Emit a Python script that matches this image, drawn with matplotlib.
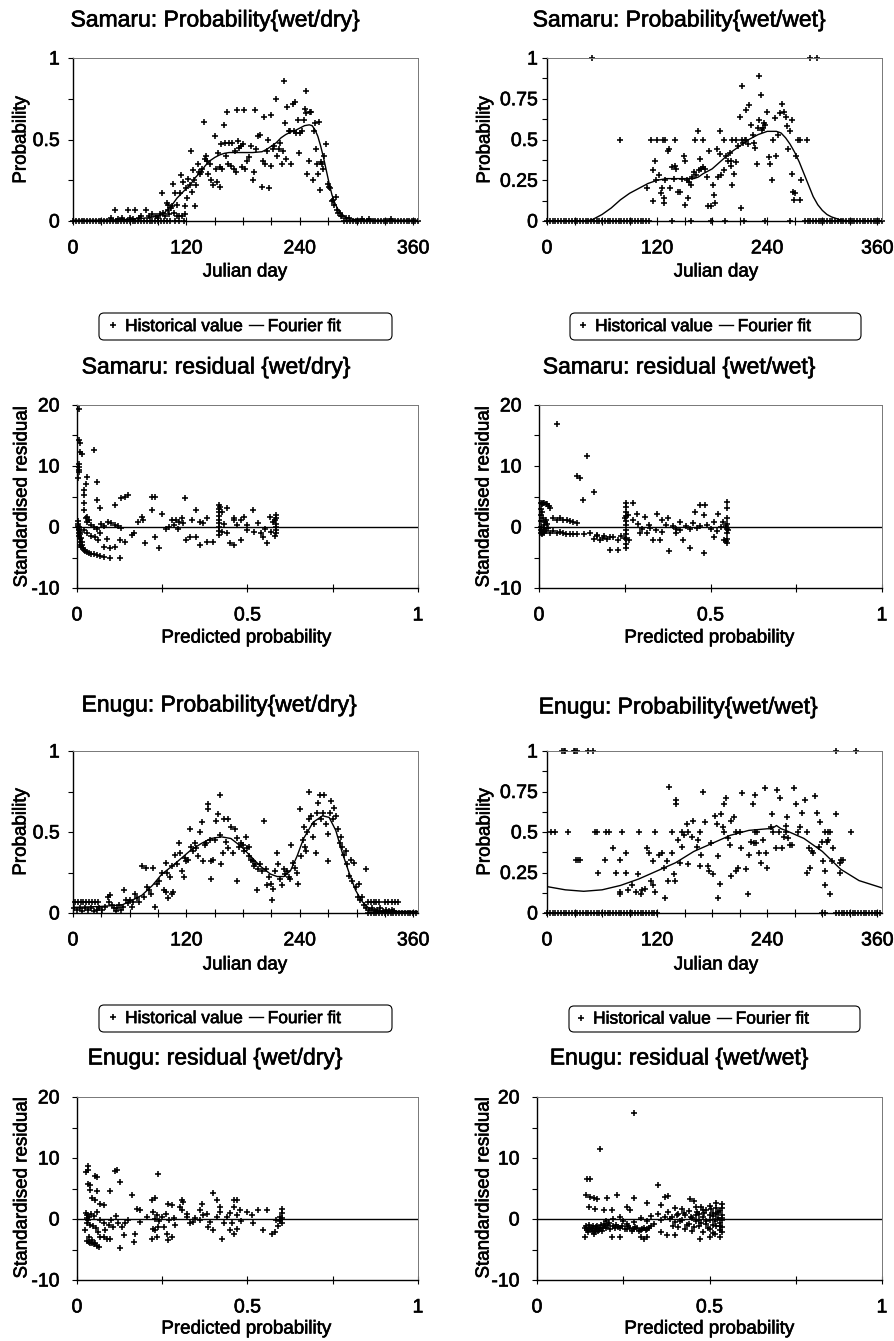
import matplotlib
matplotlib.use("Agg")
import matplotlib.pyplot as plt
import matplotlib.patheffects as pe
from matplotlib.text import Text
from matplotlib.lines import Line2D
from matplotlib.patches import FancyBboxPatch
from matplotlib.transforms import IdentityTransform
from matplotlib.ticker import MultipleLocator, FixedLocator

plt.rcParams['font.family'] = ['Liberation Sans', 'DejaVu Sans']

# ---------------- DATA ----------------
# Samaru P(wet|dry): (Julian day, probability)
samaru_wd_hist = [(40,0.02),(44,0.07),(48,0.015),(52,0.02),(58,0.07),(60,0.02),(63,0.015),(66,0.07),(70,0.02),(72,0.03),(77,0.07),(80,0.03),(84,0.04),(88,0.03),(90,0.02),(92,0.04),(95,0.05),(97,0.03),(100,0.07),(102,0.04),(105,0.09),(107,0.05),(110,0.03),(112,0.03),(115,0.03),(118,0.04),
    (94,0.17),(99,0.11),(101,0.10),(104,0.08),(106,0.23),(108,0.17),(110,0.10),(113,0.17),(114,0.28),(116,0.24),(118,0.09),(120,0.20),(121,0.14),(122,0.26),(124,0.22),(125,0.43),(126,0.18),(127,0.31),(128,0.25),(129,0.09),(130,0.22),(132,0.35),(133,0.30),(134,0.29),(135,0.30),(137,0.32),(139,0.61),(140,0.38),(141,0.40),(142,0.37),(143,0.29),(145,0.35),(146,0.25),(148,0.22),(150,0.52),(151,0.32),(152,0.24),(153,0.42),(155,0.21),(156,0.33),(157,0.47),(158,0.32),(160,0.59),(161,0.48),(162,0.40),(163,0.67),(164,0.35),(165,0.48),(167,0.34),(168,0.48),(170,0.32),(171,0.43),(172,0.30),(174,0.68),(175,0.49),(176,0.45),(178,0.46),(179,0.33),(180,0.47),(181,0.68),(182,0.32),(184,0.37),(186,0.39),(188,0.46),(190,0.25),(191,0.30),(193,0.68),(194,0.44),(196,0.52),(198,0.53),(200,0.21),(201,0.37),(202,0.64),(203,0.35),(205,0.43),(206,0.50),(207,0.20),(209,0.65),(210,0.34),(212,0.44),(213,0.46),(215,0.75),(216,0.40),(218,0.44),(219,0.48),(221,0.35),(222,0.43),(223,0.86),(224,0.60),(225,0.38),(226,0.70),(228,0.55),(230,0.55),(231,0.35),(233,0.72),(234,0.55),(235,0.73),(236,0.54),(238,0.62),(239,0.42),(240,0.54),(242,0.55),(244,0.62),(245,0.69),(246,0.80),(247,0.66),(248,0.29),(250,0.37),(251,0.67),(252,0.67),(254,0.25),(255,0.55),(256,0.60),(257,0.44),(258,0.35),(259,0.29),(260,0.61),(261,0.19),(262,0.36),(263,0.35),(264,0.32),(266,0.40),(268,0.47),(270,0.23),(271,0.21),(272,0.20),(274,0.12),(275,0.13),(276,0.10),(278,0.15),(279,0.07),(280,0.05),(282,0.05),(284,0.03),(285,0.03),(289,0.02),(292,0.02),(306,0.015),(313,0.015),(336,0.015)]
samaru_wd_zero_days = [0,3,6,9,12,15,18,21,24,27,30,33,36,39,42,45,48,51,54,57,60,63,66,69,72,75,78,81,84,87,90,93,96,99,103,108,112,117,
    287,290,293,296,299,302,305,308,311,314,317,320,323,326,329,332,335,338,341,344,347,350,353,356,359,362,365]
samaru_wd_fit_days = [0,20,40,60,80,90,95,100,105,110,115,120,125,130,135,140,145,150,155,160,165,170,180,190,200,205,210,215,220,225,230,235,240,245,250,253,256,259,262,265,268,271,274,277,280,284,288,292,296,300,310,320,340,365]
samaru_wd_fit_prob = [0.005,0.005,0.006,0.01,0.02,0.03,0.04,0.07,0.10,0.14,0.17,0.20,0.23,0.27,0.30,0.34,0.37,0.39,0.405,0.415,0.42,0.42,0.42,0.42,0.425,0.44,0.46,0.48,0.51,0.53,0.545,0.555,0.57,0.585,0.59,0.585,0.56,0.52,0.46,0.39,0.31,0.23,0.16,0.11,0.075,0.045,0.025,0.015,0.01,0.008,0.006,0.005,0.005,0.005]

# Samaru P(wet|wet)
samaru_ww_hist = [(49,1.0),(287,1.0),(294,1.0),
    (80,0.50),(113,0.50),(120,0.50),(126,0.50),(129,0.50),(140,0.50),(161,0.50),(170,0.50),(193,0.50),(202,0.50),(206,0.50),(213,0.50),(217,0.50),(274,0.50),(276,0.50),(283,0.50),
    (109,0.20),(115,0.12),(116,0.31),(118,0.37),(119,0.25),(122,0.28),(124,0.17),(125,0.20),(127,0.11),(128,0.14),(129,0.25),(132,0.43),(133,0.44),(134,0.20),(136,0.33),(138,0.26),(140,0.34),(141,0.32),(143,0.18),(145,0.18),(147,0.26),(149,0.40),(150,0.37),(150,0.10),(152,0.25),(154,0.14),(155,0.24),(157,0.22),(158,0.27),(160,0.30),(162,0.28),(165,0.55),(166,0.31),(167,0.38),(168,0.32),(170,0.33),(172,0.32),(174,0.27),(175,0.09),(177,0.43),(179,0.09),(181,0.22),(182,0.16),(183,0.11),(185,0.44),(186,0.27),(188,0.55),(189,0.41),(190,0.28),(193,0.31),(195,0.40),(197,0.37),(199,0.42),(200,0.34),(201,0.37),(202,0.22),(204,0.29),(206,0.36),(208,0.46),(210,0.64),(211,0.08),(213,0.83),(214,0.48),(216,0.50),(217,0.68),(219,0.47),(220,0.71),(222,0.59),(224,0.53),(226,0.48),(227,0.45),(229,0.35),(230,0.57),(231,0.89),(231,0.62),(233,0.77),(234,0.56),(235,0.57),(236,0.60),(238,0.59),(240,0.67),(242,0.39),(243,0.35),(245,0.25),(246,0.50),(248,0.63),(249,0.40),(252,0.53),(254,0.66),(256,0.72),(258,0.67),(260,0.64),(261,0.58),(263,0.44),(265,0.55),(267,0.62),(267,0.29),(268,0.18),(269,0.13),(270,0.17),(271,0.40),(276,0.13),(277,0.25)]
samaru_ww_zero_days = [0,3,6,9,12,15,18,21,24,27,30,33,36,39,42,45,48,51,54,57,60,63,66,69,72,75,78,81,84,87,90,93,96,99,102,105,108,111,
    136,157,179,194,215,237,265,
    281,284,287,290,293,296,299,302,305,308,311,314,317,320,323,326,329,332,335,338,341,344,347,350,353,356,359,362,365]
samaru_ww_fit_days = [0,30,45,50,55,60,70,80,90,100,110,120,130,140,150,160,165,170,180,190,200,210,220,230,240,250,255,260,265,270,275,280,285,290,295,300,305,310,320,330,365]
samaru_ww_fit_prob = [0,0,0.003,0.01,0.025,0.04,0.08,0.13,0.17,0.20,0.23,0.25,0.26,0.26,0.26,0.26,0.27,0.29,0.32,0.37,0.42,0.46,0.50,0.53,0.55,0.55,0.54,0.51,0.47,0.42,0.36,0.29,0.22,0.15,0.10,0.065,0.04,0.025,0.006,0.0,0.0]

# Samaru residuals (predicted probability, standardised residual)
samaru_wd_resid = [(0.007,19.4),(0.007,14.2),(0.01,13.7),(0.01,12.3),(0.015,12.0),(0.005,10.4),(0.005,9.9),(0.005,9.4),(0.006,9.0),(0.004,8.0),(0.049,12.7),(0.03,8.2),(0.027,7.1),(0.06,7.3),(0.02,6.0),(0.02,5.2),(0.02,4.0),(0.02,2.8),(0.06,4.4),(0.068,3.1),(0.03,1.7),(0.034,1.1),(0.025,1.5),(0.028,0.8),
    (0.003,1.0),(0.004,0.5),(0.005,0.0),(0.005,-0.5),(0.006,-1.0),(0.007,-1.5),(0.008,-2.0),(0.009,-2.5),(0.01,-3.0),(0.012,-3.3),(0.004,0.2),(0.006,-0.3),(0.008,-0.8),(0.01,-1.2),(0.012,-1.8),(0.014,-2.4),(0.016,-3.0),(0.018,-3.5),(0.02,-3.8),(0.024,-4.0),(0.028,-4.1),(0.035,-4.3),(0.04,-4.4),
    (0.049,-4.5),(0.058,-4.6),(0.068,-4.8),(0.078,-4.9),(0.098,-5.1),(0.127,-5.0),
    (0.02,-0.5),(0.03,-1.0),(0.04,-1.5),(0.054,-1.6),(0.063,-2.1),(0.068,-1.0),(0.078,-3.2),(0.088,-1.9),(0.098,-3.5),(0.112,-3.2),(0.127,-2.1),(0.14,-2.4),(0.16,-1.3),(0.166,-1.0),(0.20,-2.7),(0.23,-1.6),(0.24,-3.5),
    (0.04,0.3),(0.05,0.0),(0.06,-0.4),(0.07,0.5),(0.08,0.2),(0.09,0.9),(0.1,0.7),(0.11,0.4),(0.12,0.2),(0.13,-0.2),
    (0.112,3.6),(0.13,4.7),(0.14,5.0),(0.15,5.2),(0.22,5.0),(0.23,5.0),(0.22,2.8),(0.195,1.1),(0.19,1.7),(0.18,0.9),(0.25,2.2),(0.317,4.7),(0.35,2.8),(0.30,0.9),(0.278,1.1),(0.32,-2.1),(0.27,0.0),(0.29,1.1),(0.307,1.4),(0.337,1.1),(0.36,0.9),(0.33,-1.6),(0.35,-1.6),(0.36,-2.9),(0.38,-2.4),(0.40,-2.4),(0.38,1.4),(0.37,0.6),
    (0.415,3.6),(0.415,3.0),(0.415,2.4),(0.415,1.8),(0.415,1.2),(0.415,0.6),(0.415,0.0),(0.415,-0.6),(0.415,-1.3),(0.42,3.3),(0.425,2.5),(0.43,0.5),(0.425,-0.8),
    (0.44,3.1),(0.46,1.1),(0.46,-2.9),(0.45,-2.7),(0.48,1.1),(0.49,1.7),(0.50,-0.5),(0.517,2.8),(0.52,-0.8),(0.54,-1.0),(0.556,-2.7),(0.546,-1.6),(0.566,1.7),(0.58,1.1),(0.585,2.0),(0.585,-0.5),(0.585,-1.0),(0.57,-0.8),(0.48,-2.1),(0.44,-1.0),(0.46,1.4),(0.585,0.5),(0.585,0.0),(0.585,1.5),(0.58,-1.5),(0.575,0.8),(0.50,0.3),(0.53,0.6),(0.47,0.4),(0.55,-0.3),
    (0.26,-0.3),(0.285,0.4),(0.295,-0.4),(0.31,0.6)]
samaru_ww_resid = [(0.052,16.9),(0.141,11.7),(0.11,8.4),(0.12,8.0),(0.159,5.8),(0.127,4.5),
    (0.005,4.0),(0.008,3.8),(0.012,3.9),(0.016,4.0),(0.02,3.8),(0.024,3.7),(0.028,3.5),(0.005,3.0),(0.006,2.0),(0.006,1.0),(0.007,0.0),(0.006,-0.5),(0.008,-1.0),(0.01,-1.2),(0.012,-0.8),(0.014,-0.3),(0.016,0.3),(0.018,0.8),(0.02,1.2),(0.022,0.5),(0.025,-0.2),(0.01,2.5),(0.012,1.5),(0.005,-1.0),(0.015,-1.0),(0.02,-0.6),
    (0.032,3.1),(0.042,1.4),(0.052,1.1),(0.061,1.4),(0.071,1.1),(0.081,1.1),(0.09,1.0),(0.10,0.8),(0.11,0.7),
    (0.032,-1.0),(0.042,-0.6),(0.052,-1.0),(0.062,-0.8),(0.07,-1.0),(0.08,-1.1),(0.09,-1.2),(0.10,-1.2),(0.11,-1.2),(0.13,-1.1),(0.149,-1.0),(0.159,-1.9),(0.168,-1.5),(0.178,-2.1),(0.188,-1.8),(0.197,-1.9),(0.207,-1.7),(0.217,-1.7),(0.23,-2.1),(0.207,-3.8),(0.231,-3.8),(0.24,-1.5),(0.17,-1.3),(0.19,-1.5),
    (0.255,4.0),(0.255,3.2),(0.255,2.5),(0.255,1.8),(0.255,1.0),(0.255,0.3),(0.255,-0.5),(0.255,-1.2),(0.255,-2.0),(0.255,-2.8),(0.255,-3.5),(0.26,2.0),(0.262,-2.2),(0.25,1.5),(0.25,-1.8),
    (0.275,3.9),(0.285,2.2),(0.31,1.7),(0.275,1.1),(0.295,-1.0),(0.314,-1.0),(0.323,-0.2),(0.333,-2.1),(0.353,-2.1),(0.343,2.2),(0.358,1.1),(0.375,1.4),(0.38,-4.0),(0.40,-1.0),(0.41,0.9),(0.42,-2.1),(0.44,-3.5),(0.455,2.5),(0.47,3.6),(0.484,3.6),(0.48,-4.3),(0.48,2.0),(0.51,0.9),(0.51,-1.6),(0.523,2.2),(0.53,0.0),(0.538,-2.1),(0.29,0.5),(0.30,-0.3),(0.32,0.4),(0.34,-0.5),(0.36,-0.8),(0.37,0.3),(0.39,0.2),(0.40,-0.3),(0.41,-0.5),(0.43,0.1),(0.44,-0.4),(0.45,0.6),(0.46,-0.2),(0.47,0.1),(0.49,0.4),(0.50,-0.3),(0.52,-0.6),(0.535,0.9),
    (0.548,4.1),(0.548,3.1),(0.548,1.5),(0.548,0.5),(0.548,-0.3),(0.548,-1.0),(0.548,-2.0),(0.548,-2.6),(0.545,-2.3),(0.545,0.2),(0.55,-0.5)]

# Enugu P(wet|dry)
enugu_wd_hist = [(2,0.07),(5,0.07),(8,0.07),(11,0.07),(14,0.07),(17,0.07),(20,0.07),(23,0.07),(26,0.07),(1,0.03),(4,0.02),(7,0.03),(10,0.01),(13,0.03),(16,0.02),(19,0.03),(22,0.01),(25,0.02),(28,0.03),(31,0.02),(34,0.04),(37,0.10),(38,0.07),(39,0.11),(41,0.05),(43,0.03),(45,0.01),(47,0.03),(49,0.05),(51,0.02),(53,0.04),(54,0.14),(56,0.08),(58,0.06),(60,0.08),(62,0.04),(64,0.07),(66,0.12),(68,0.09),(70,0.07),
    (73,0.29),(75,0.10),(77,0.28),(78,0.16),(80,0.14),(82,0.12),(85,0.28),(87,0.04),(89,0.18),(91,0.20),(94,0.25),(96,0.14),(98,0.13),(98,0.31),(99,0.25),(101,0.09),(103,0.22),(105,0.12),(105,0.29),(106,0.13),(108,0.36),(110,0.30),(112,0.43),(113,0.37),(115,0.26),(117,0.22),(118,0.34),(120,0.32),(122,0.33),(124,0.52),(125,0.41),(127,0.38),(129,0.43),(130,0.40),(132,0.35),(134,0.50),(136,0.56),(138,0.32),(140,0.42),(141,0.43),(143,0.67),(143,0.64),(145,0.45),(146,0.32),(146,0.21),(148,0.33),(150,0.45),(151,0.57),(153,0.61),(155,0.48),(156,0.73),(157,0.30),(159,0.37),(160,0.58),(162,0.44),(164,0.58),(164,0.40),(167,0.53),(169,0.37),(171,0.52),(173,0.46),(174,0.20),(176,0.41),(178,0.43),(180,0.42),(181,0.38),(183,0.47),(184,0.40),(186,0.41),(186,0.35),(188,0.33),(190,0.32),(191,0.29),(193,0.30),(195,0.14),(196,0.27),(198,0.30),(200,0.26),(202,0.57),(204,0.27),(205,0.17),(207,0.22),(209,0.18),(211,0.08),(212,0.15),(214,0.26),(216,0.37),(217,0.30),(219,0.21),(221,0.17),(223,0.27),(224,0.24),(226,0.26),(228,0.22),(230,0.21),(231,0.42),(233,0.31),(235,0.28),(237,0.25),(238,0.18),(240,0.64),(241,0.35),(243,0.45),(244,0.53),(245,0.41),(247,0.38),(248,0.50),(250,0.75),(250,0.58),(252,0.60),(254,0.47),(255,0.55),(257,0.37),(258,0.62),(259,0.68),(261,0.73),(262,0.58),(264,0.62),(266,0.73),(268,0.55),(270,0.49),(270,0.32),(272,0.62),(273,0.69),(275,0.58),(276,0.65),(278,0.60),(280,0.52),(282,0.43),(284,0.47),(285,0.41),(287,0.36),(289,0.38),(290,0.30),(292,0.23),(294,0.33),(295,0.20),(297,0.31),(299,0.16),(301,0.10),(303,0.18),(304,0.08),(306,0.10),(308,0.05),(310,0.27),(310,0.03),
    (312,0.07),(315,0.07),(318,0.07),(321,0.07),(324,0.07),(330,0.07),(333,0.07),(338,0.07),(341,0.07),(344,0.07),(313,0.02),(316,0.03),(319,0.01),(322,0.02),(325,0.03),(328,0.01),(331,0.02),(334,0.01),(337,0.02),(340,0.01)]
enugu_wd_zero_days = [312,315,318,321,324,327,330,333,336,339,342,345,348,351,354,357,360,363]
enugu_wd_fit_days = [0,28,52,63,73,84,94,105,115,125,136,146,157,167,178,188,198,209,216,223,230,237,244,254,264,271,278,285,292,299,306,313,323,340,365]
enugu_wd_fit_prob = [0.035,0.04,0.05,0.08,0.11,0.17,0.24,0.29,0.34,0.39,0.43,0.46,0.47,0.46,0.41,0.35,0.29,0.24,0.225,0.225,0.26,0.35,0.46,0.56,0.60,0.59,0.51,0.37,0.25,0.14,0.07,0.03,0.01,0.01,0.01]

# Enugu P(wet|wet)
enugu_ww_hist = [(16,1.0),(18,1.0),(20,1.0),(29,1.0),(31,1.0),(33,1.0),(45,1.0),(50,1.0),(315,1.0),(337,1.0),
    (4,0.5),(9,0.5),(23,0.5),(52,0.5),(55,0.5),(64,0.5),(68,0.5),(82,0.5),(100,0.5),(118,0.5),(136,0.5),(147,0.5),(154,0.5),(167,0.5),(193,0.5),(206,0.5),(210,0.5),(227,0.5),(229,0.5),(253,0.5),(260,0.5),(283,0.5),(303,0.5),(306,0.5),(308,0.5),(331,0.5),
    (32,0.33),(34,0.33),(36,0.33),(56,0.25),(63,0.33),(72,0.40),(75,0.25),(79,0.33),(86,0.25),(86,0.37),(79,0.13),(80,0.12),(88,0.14),(93,0.17),(97,0.13),(99,0.24),(102,0.12),(104,0.14),(107,0.15),(109,0.40),(111,0.37),(113,0.20),(115,0.17),(116,0.32),(118,0.13),(122,0.36),(125,0.37),(127,0.28),(129,0.09),(131,0.32),(132,0.20),(133,0.78),(136,0.37),(138,0.24),(140,0.20),(141,0.70),(141,0.67),(143,0.45),(145,0.31),(147,0.41),(149,0.48),(152,0.55),(154,0.30),(158,0.47),(159,0.57),(163,0.41),(165,0.45),(167,0.29),(168,0.36),(170,0.75),(172,0.56),(175,0.29),(177,0.26),(179,0.43),(181,0.24),(183,0.60),(185,0.55),(186,0.35),(186,0.09),(188,0.18),(190,0.61),(192,0.53),(193,0.67),(195,0.71),(197,0.46),(199,0.42),(201,0.57),(204,0.59),(201,0.23),(206,0.26),(208,0.28),(211,0.40),(213,0.74),(217,0.27),(219,0.12),(220,0.36),(222,0.44),(224,0.67),(225,0.43),(227,0.73),(228,0.43),(231,0.37),(233,0.31),(235,0.45),(237,0.77),(239,0.37),(240,0.28),(244,0.53),(245,0.61),(246,0.50),(249,0.40),(251,0.76),(254,0.71),(256,0.40),(258,0.47),(260,0.54),(261,0.59),(263,0.46),(265,0.42),(267,0.42),(269,0.77),(271,0.67),(274,0.50),(276,0.53),(278,0.62),(281,0.70),(283,0.25),(285,0.40),(287,0.28),(289,0.38),(290,0.37),(292,0.72),(294,0.62),(296,0.41),(297,0.56),(300,0.44),(301,0.32),(303,0.26),(305,0.44),(306,0.45),(310,0.32),(312,0.40),(303,0.17),(315,0.61),(319,0.31),(308,0.12),(319,0.25),(320,0.33),(322,0.33)]
enugu_ww_zero_days = [0,3,6,9,12,15,18,21,24,27,30,33,36,39,42,45,48,51,54,57,60,63,66,69,72,75,78,81,84,87,90,93,96,99,102,105,108,111,114,117,120,
    300,303,315,318,321,324,327,330,333,336,339,342,345,348,351,354,357,360,363]
enugu_ww_fit_days = [0,20,40,60,80,100,120,140,160,180,200,220,240,245,250,255,260,280,300,320,340,365]
enugu_ww_fit_prob = [0.163,0.143,0.134,0.143,0.17,0.21,0.26,0.31,0.38,0.43,0.48,0.51,0.52,0.52,0.54,0.52,0.51,0.46,0.38,0.27,0.20,0.155]

# Enugu residuals
enugu_wd_resid = [(0.031,8.7),(0.031,8.0),(0.027,7.7),(0.054,7.0),(0.059,6.9),(0.117,8.1),(0.112,7.9),(0.127,6.1),(0.239,7.4),(0.031,5.8),(0.037,5.5),(0.039,4.7),(0.098,4.6),(0.06,4.6),(0.044,3.4),(0.054,3.1),(0.068,2.5),(0.078,2.3),(0.161,3.9),(0.22,3.1),(0.229,3.4),(0.307,3.1),(0.40,4.2),(0.41,3.1),(0.459,3.1),(0.469,3.1),(0.366,2.5),(0.42,2.0),
    (0.025,1.0),(0.028,0.6),(0.03,0.2),(0.032,-0.2),(0.035,0.4),(0.03,-0.6),(0.038,-1.0),(0.04,0.8),
    (0.024,-1.8),(0.034,-2.9),(0.044,-3.4),(0.054,-3.9),(0.029,-3.6),(0.039,-3.9),(0.049,-4.1),(0.059,-4.4),(0.064,-4.6),(0.034,-3.8),(0.045,-4.0),(0.068,-2.9),(0.078,-2.9),(0.088,-3.2),(0.098,-3.2),(0.127,-4.8),(0.166,-3.7),(0.137,-2.6),(0.17,-2.4),(0.107,-1.3),(0.093,-1.0),(0.078,-0.7),(0.068,-0.2),(0.055,-1.5),(0.048,-1.2),(0.062,-2.2),(0.083,-1.8),(0.05,0.5),(0.06,1.2),
    (0.224,1.2),(0.234,0.6),(0.224,-1.6),(0.229,-1.8),(0.239,-1.3),(0.22,-3.2),(0.234,-2.9),(0.254,-1.3),(0.263,-2.4),(0.268,-3.5),(0.278,-2.9),(0.288,-1.0),(0.302,2.0),(0.307,1.5),(0.322,0.9),(0.332,-0.7),(0.346,0.1),(0.361,-0.2),(0.37,0.6),(0.38,0.9),(0.39,-0.5),(0.385,-1.3),(0.40,-1.8),(0.424,-3.2),(0.449,-1.8),(0.459,-2.4),(0.454,-0.7),(0.469,0.6),(0.478,1.5),(0.498,1.2),(0.512,0.6),(0.517,-0.7),(0.532,1.5),(0.546,-1.8),(0.556,1.5),(0.571,-2.4),(0.58,-2.1),(0.585,-0.2),(0.595,0.4),(0.60,1.7),(0.60,-0.7),(0.41,0.4),(0.283,0.1),(0.268,2.5),(0.278,2.3),(0.185,1.5),(0.176,1.7),(0.205,0.4),(0.151,-0.2),(0.141,-0.7),(0.132,-1.3),(0.185,-0.5),(0.312,2.8),(0.322,0.4),(0.341,-0.5),(0.361,1.5),(0.23,0.0),(0.24,-0.4),(0.25,0.3),(0.26,0.8),(0.27,-0.2),(0.44,0.3),(0.45,1.0),(0.46,2.0),(0.47,-1.6),(0.48,-0.3),(0.43,-0.6),(0.42,1.1),(0.59,-1.2),(0.60,0.2),(0.60,1.0),(0.595,-0.4),(0.12,-0.6),(0.115,0.5),(0.10,-0.2)]
enugu_ww_resid = [(0.282,17.4),(0.182,11.5),(0.145,6.5),(0.153,6.5),(0.351,5.5),(0.143,3.9),(0.155,3.6),(0.164,3.4),(0.174,3.2),(0.203,3.4),(0.232,3.9),(0.28,3.4),(0.319,2.6),(0.358,2.3),(0.372,3.6),(0.38,3.8),(0.444,3.2),(0.454,3.0),(0.15,2.0),(0.169,1.7),(0.193,1.5),(0.217,1.5),(0.261,2.0),(0.27,1.5),
    (0.14,-1.5),(0.145,-1.8),(0.15,-1.4),(0.155,-1.7),(0.16,-1.5),(0.165,-1.9),(0.17,-1.6),(0.175,-1.2),(0.18,-1.8),(0.185,-1.0),(0.19,-1.5),(0.195,-0.8),(0.20,-1.4),(0.21,-0.6),(0.22,-1.2),(0.23,-1.0),(0.24,-1.5),(0.25,-0.3),(0.26,-1.6),(0.27,-1.4),(0.28,-1.7),(0.29,-1.5),(0.30,-1.8),(0.31,-1.4),(0.32,-1.6),(0.33,-1.2),(0.14,-2.9),(0.164,-2.5),(0.218,-2.9),(0.242,-2.9),(0.30,-2.9),(0.309,-3.2),(0.318,-3.0),(0.358,-2.1),(0.377,-2.6),(0.401,-2.6),(0.473,-3.2),(0.502,-2.9),(0.517,-2.4),(0.531,-2.9),
    (0.142,-1.2),(0.147,-2.2),(0.152,-1.0),(0.158,-2.0),(0.162,-1.1),(0.168,-2.1),(0.172,-1.3),(0.178,-1.9),(0.183,-1.4),(0.188,-2.0),(0.196,-1.2),(0.205,-1.0),(0.212,-1.6),(0.226,-1.5),(0.235,-1.3),(0.245,-1.1),(0.255,-1.7),(0.265,-1.2),(0.275,-1.9),(0.285,-1.3),(0.295,-2.0),(0.305,-1.6),(0.315,-1.8),(0.325,-1.4),
    (0.20,-0.3),(0.22,0.0),(0.24,0.3),(0.26,-0.8),(0.28,-0.5),(0.30,0.2),(0.32,-0.4),(0.33,0.5),(0.34,-0.8),(0.35,0.8),(0.36,-0.2),(0.37,0.4),
    (0.38,1.2),(0.39,0.4),(0.40,-0.5),(0.40,1.8),(0.41,-1.3),(0.41,0.9),(0.42,1.6),(0.42,-0.2),(0.43,0.6),(0.43,-1.6),(0.44,1.3),(0.44,-0.8),(0.45,0.2),(0.45,-1.9),(0.46,1.9),(0.46,-0.4),(0.47,0.8),(0.47,-1.2),(0.475,2.0),(0.48,-2.1),(0.48,0.3),(0.49,1.5),(0.49,-0.9),(0.50,2.2),(0.50,-0.1),(0.50,-1.6),(0.51,1.0),(0.51,-2.3),(0.51,0.5),(0.52,1.8),(0.52,-1.1),(0.52,2.6),(0.525,0.2),(0.53,-0.6),(0.53,1.3),(0.53,-1.8),(0.535,2.4),(0.535,0.7),(0.535,-1.3),(0.535,-0.2),(0.535,1.8),(0.535,-2.2),
    (0.385,0.0),(0.395,-1.1),(0.405,0.6),(0.415,-0.3),(0.425,1.0),(0.435,-1.0),(0.445,0.4),(0.455,-1.3),(0.465,1.1),(0.475,-0.7),(0.485,1.0),(0.495,-1.4),(0.505,1.6),(0.515,-0.4),(0.525,1.2),(0.53,-1.2),(0.535,0.2),(0.52,0.8),(0.51,-1.0),(0.50,0.6),(0.49,-0.3),(0.48,1.4),(0.47,-0.2),(0.46,0.6)]

prob_xticks = [0, 120, 240, 360]
prob_xticklabels = ['0', '120', '240', '360']
resid_xticks = [0, 0.5, 1]
resid_xticklabels = ['0', '0.5', '1']
resid_yticks = [-10, 0, 10, 20]
resid_yticklabels = ['-10', '0', '10', '20']

titles = ['Samaru: Probability{wet/dry}', 'Samaru: Probability{wet/wet}',
          'Samaru: residual {wet/dry}', 'Samaru: residual {wet/wet}',
          'Enugu: Probability{wet/dry}', 'Enugu: Probability{wet/wet}',
          'Enugu: residual {wet/dry}', 'Enugu: residual {wet/wet}']

# ---------------- FIGURE ----------------
W, H = 894, 1341
fig = plt.figure(figsize=(W / 100, H / 100), dpi=100)
fig.patch.set_facecolor('white')

def px_axes(l, r, t, b):
    return fig.add_axes([l / W, 1 - b / H, (r - l) / W, (b - t) / H])

def ftext(x, y, s, **kw):
    fig.text(x / W, 1 - y / H, s, ha='center', va='center', **kw)

MK = dict(linestyle='none', marker='+', color='black', ms=4.6, mew=1.15, clip_on=False)

def style(ax, ypad):
    ax.tick_params(axis='x', which='both', direction='inout', length=6, width=0.8,
                   labelsize=14, pad=11, top=False)
    ax.tick_params(axis='y', which='both', direction='out', length=3.5, width=0.8,
                   labelsize=14, pad=ypad, right=False)
    for s in ['top', 'right']:
        ax.spines[s].set_color('#777777')
        ax.spines[s].set_linewidth(0.7)
    for s in ['left', 'bottom']:
        ax.spines[s].set_linewidth(1.0)

def prob_panel(box, hist, zero_days, fit_d, fit_p, quarter, ypad):
    ax = px_axes(*box)
    ax.plot([d for d, _ in hist], [p for _, p in hist], **MK)
    ax.plot(zero_days, [0] * len(zero_days), **MK)
    ax.plot(fit_d, fit_p, color='black', lw=1.0)
    ax.set_xlim(0, 365)
    ax.set_ylim(0, 1)
    ax.xaxis.set_major_locator(FixedLocator(prob_xticks))
    ax.set_xticklabels(prob_xticklabels)
    ax.xaxis.set_minor_locator(MultipleLocator(30))
    if quarter:
        ax.yaxis.set_major_locator(FixedLocator([0, 0.25, 0.5, 0.75, 1]))
        ax.set_yticklabels(['0', '0.25', '0.5', '0.75', '1'])
        ax.yaxis.set_minor_locator(MultipleLocator(0.125))
    else:
        ax.yaxis.set_major_locator(FixedLocator([0, 0.5, 1]))
        ax.set_yticklabels(['0', '0.5', '1'])
        ax.yaxis.set_minor_locator(MultipleLocator(0.25))
    style(ax, ypad)
    return ax

def resid_panel(box, resid, ypad):
    ax = px_axes(*box)
    ax.axhline(0, color='black', lw=1.0)
    ax.plot([x for x, _ in resid], [y for _, y in resid], **MK)
    ax.set_xlim(0, 1)
    ax.set_ylim(-10, 20)
    ax.xaxis.set_major_locator(FixedLocator(resid_xticks))
    ax.set_xticklabels(resid_xticklabels)
    ax.xaxis.set_minor_locator(MultipleLocator(0.25))
    ax.yaxis.set_major_locator(FixedLocator(resid_yticks))
    ax.set_yticklabels(resid_yticklabels)
    ax.yaxis.set_minor_locator(MultipleLocator(5))
    style(ax, ypad)
    return ax

prob_panel((73, 418, 58, 221), samaru_wd_hist, samaru_wd_zero_days, samaru_wd_fit_days, samaru_wd_fit_prob, False, 6)
prob_panel((547, 882, 58, 221), samaru_ww_hist, samaru_ww_zero_days, samaru_ww_fit_days, samaru_ww_fit_prob, True, 3)
resid_panel((77, 418, 405, 588), samaru_wd_resid, 9)
resid_panel((539, 882, 405, 588), samaru_ww_resid, 9)
prob_panel((73, 418, 751, 913), enugu_wd_hist, enugu_wd_zero_days, enugu_wd_fit_days, enugu_wd_fit_prob, False, 6)
prob_panel((547, 882, 751, 913), enugu_ww_hist, enugu_ww_zero_days, enugu_ww_fit_days, enugu_ww_fit_prob, True, 3)
resid_panel((77, 418, 1097, 1280), enugu_wd_resid, 9)
resid_panel((537, 882, 1097, 1280), enugu_ww_resid, 9)

# titles
TFS = 16.5
title_pos = [(215, 20), (679, 20), (216, 367), (679, 367),
             (219, 705), (678, 707), (215, 1058), (679, 1058)]
for (x, y), t in zip(title_pos, titles):
    ftext(x, y, t, fontsize=TFS)

LFS = 13.5
for x, y in [(21, 140), (21, 832), (485, 140), (485, 832)]:
    ftext(x, y, 'Probability', fontsize=LFS, rotation=90)
for x, y in [(22, 497), (484, 497), (22, 1188), (484, 1188)]:
    ftext(x, y, 'Standardised residual', fontsize=LFS, rotation=90)
for x, y in [(245, 272), (716, 272), (245, 965), (716, 965)]:
    ftext(x, y, 'Julian day', fontsize=LFS)
for x, y in [(246, 638), (709, 638), (246, 1329), (709, 1329)]:
    ftext(x, y, 'Predicted probability', fontsize=LFS)

# legends
handles = [Line2D([], [], linestyle='none', marker='+', color='black', ms=4.6, mew=1.15),
           Line2D([], [], color='black', lw=1.0)]
legend_boxes = [((99, 392, 313, 340), 106), ((570, 861, 313, 340), 576),
                ((99, 392, 1005, 1032), 106), ((569, 860, 1006, 1032), 574)]
for (l, r, t, b), ax0 in legend_boxes:
    patch = FancyBboxPatch((l, H - b), r - l, b - t,
                           boxstyle='round,pad=0,rounding_size=5',
                           transform=IdentityTransform(), fill=False,
                           edgecolor='black', linewidth=0.8)
    fig.add_artist(patch)
    fig.legend(handles=handles, labels=['Historical value', 'Fourier fit'],
               loc='center left', bbox_to_anchor=(ax0 / W, 1 - ((t + b) / 2) / H),
               ncol=2, frameon=False, fontsize=12.5, handlelength=0.85,
               handletextpad=0.25, columnspacing=0.3, borderpad=0, borderaxespad=0)

# slightly heavier text, like the scanned original
for t in fig.findobj(Text):
    t.set_path_effects([pe.withStroke(linewidth=0.45, foreground='black')])

fig.savefig('out.png', dpi=100, facecolor='white')
